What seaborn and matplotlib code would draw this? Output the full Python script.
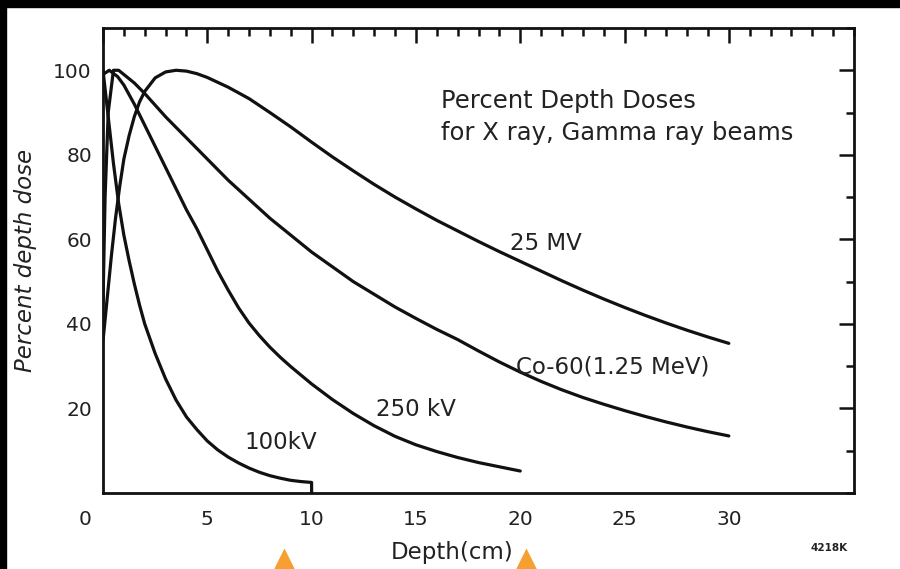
import matplotlib
matplotlib.use("Agg")
import matplotlib.pyplot as plt
import matplotlib.transforms as mtransforms
from matplotlib.patches import Rectangle
from matplotlib.ticker import MultipleLocator
import seaborn as sns
import pandas as pd

# ---- data ----
mv25_depth = [0, 0.2, 0.4, 0.6, 0.8, 1.0, 1.25, 1.5, 1.75, 2.0, 2.5, 3.0, 3.5, 4.0, 4.5, 5, 6, 7, 8, 9, 10,
              11, 12, 13, 14, 15, 16, 17, 18, 19, 20, 21, 22, 23, 24, 25, 26, 27, 28, 29, 30]
mv25_dose  = [36, 46, 56, 65, 72.5, 79, 84.5, 89, 92.5, 95, 98.2, 99.6, 100, 99.8, 99.2, 98.3, 96, 93.3, 90, 86.6, 83,
              79.5, 76.2, 73, 70, 67.2, 64.5, 62, 59.5, 57.1, 54.8, 52.5, 50.2, 48.0, 45.9, 43.9, 42.0, 40.2, 38.5, 36.9, 35.4]

co60_depth = [0, 0.1, 0.25, 0.5, 0.75, 1, 1.5, 2, 3, 4, 5, 6, 7, 8, 9, 10, 11, 12, 13, 14, 15,
              16, 17, 18, 19, 20, 21, 22, 23, 24, 25, 26, 27, 28, 29, 30]
co60_dose  = [45, 70, 90, 100, 100, 99, 97, 94.5, 89, 84, 79, 74, 69.5, 65, 61, 57, 53.5, 50, 47, 44, 41.3,
              38.7, 36.3, 33.6, 31.0, 28.6, 26.4, 24.4, 22.6, 21.0, 19.5, 18.1, 16.8, 15.6, 14.5, 13.5]

kv250_depth = [0, 0.3, 0.7, 1, 1.5, 2, 2.5, 3, 3.5, 4, 4.5, 5, 5.5, 6, 6.5, 7, 7.5, 8, 8.5, 9, 10,
               11, 12, 13, 14, 15, 16, 17, 18, 19, 20]
kv250_dose  = [99, 100, 98.5, 96.5, 92, 87, 82, 77, 72, 67, 62.5, 57.5, 52.5, 48, 43.8, 40.2, 37.2, 34.5, 32.1, 29.9, 25.8,
               22.1, 18.8, 15.9, 13.4, 11.4, 9.8, 8.4, 7.2, 6.2, 5.2]

kv100_depth = [0, 0.25, 0.5, 0.75, 1.0, 1.25, 1.5, 1.75, 2.0, 2.5, 3.0, 3.5, 4.0, 4.5, 5.0, 5.5, 6.0, 6.5,
               7.0, 7.5, 8.0, 8.5, 9.0, 9.5, 10.0, 10.0]
kv100_dose  = [100, 89, 78, 68.5, 61, 55, 49.5, 44.5, 40, 33, 27, 22, 18, 15, 12.3, 10.2, 8.5, 7.1,
               5.9, 4.9, 4.1, 3.5, 3.0, 2.7, 2.5, 0.0]

series_names = ["25 MV", "Co-60(1.25 MeV)", "250 kV", "100kV"]
label_texts = ["25 MV", "Co-60(1.25 MeV)", "250 kV", "100kV"]
label_x = [19.5, 19.8, 13.1, 6.8]
label_y = [59.0, 29.8, 19.8, 12.0]

x_ticks = [0, 5, 10, 15, 20, 25, 30]
y_ticks = [20, 40, 60, 80, 100]
title_lines = "Percent Depth Doses\nfor X ray, Gamma ray beams"
marker_depths = [8.7, 20.3]

frames = []
for name, xs, ys in zip(series_names,
                        [mv25_depth, co60_depth, kv250_depth, kv100_depth],
                        [mv25_dose, co60_dose, kv250_dose, kv100_dose]):
    frames.append(pd.DataFrame({"depth": xs, "dose": ys, "beam": name}))
df = pd.concat(frames, ignore_index=True)

sns.set_style("white")
plt.rcParams["font.family"] = ["DejaVu Sans"]

fig = plt.figure(figsize=(9, 5.69), dpi=100)
fig.patch.set_facecolor("white")
ax = fig.add_axes([103/900, 1 - 493/569, (854 - 103)/900, (493 - 28)/569])

for name in series_names:
    sub = df[df["beam"] == name]
    sns.lineplot(data=sub, x="depth", y="dose", ax=ax, color="#111111",
                 linewidth=2.3, sort=False, estimator=None, legend=False)

ax.set_xlim(0, 36)
ax.set_ylim(0, 110)
ax.set_xticks(x_ticks)
ax.set_yticks(y_ticks)
ax.xaxis.set_minor_locator(MultipleLocator(1))
ax.yaxis.set_minor_locator(MultipleLocator(10))
ax.tick_params(which="both", direction="in", top=True, right=True,
               width=1.8, color="#111111")
ax.tick_params(which="major", length=11, labelsize=14.5, labelcolor="#222222")
ax.tick_params(which="minor", length=6)
ax.tick_params(axis="x", which="major", pad=12)
ax.tick_params(axis="y", which="major", pad=8)
ax.tick_params(axis="y", which="major", right=True, labelright=False)
for s in ax.spines.values():
    s.set_linewidth(2.0)
    s.set_color("#111111")

# shift the "0" tick label to the left like the original
lbl0 = ax.get_xticklabels()[0]
lbl0.set_transform(lbl0.get_transform() + mtransforms.ScaledTranslation(-18/100, 0, fig.dpi_scale_trans))

ax.set_xlabel("Depth(cm)", fontsize=16.5, color="#222222")
ax.xaxis.set_label_coords((452 - 103)/751, (493 - 541)/465)
ax.set_ylabel("Percent depth dose", fontsize=16.5, style="italic", color="#222222", labelpad=12)

for t, lx, ly in zip(label_texts, label_x, label_y):
    ax.text(lx, ly, t, fontsize=16.5, color="#222222", ha="left", va="center")

ax.text(16.2, 95.6, title_lines, fontsize=17.5, color="#222222", ha="left", va="top",
        linespacing=1.42)

fig.text(829/900, 1 - 548/569, "4218K", fontsize=7.5, weight="bold", color="#222222",
         ha="center", va="center")

# black scan borders
fig.patches.append(Rectangle((0, 1 - 7/569), 1, 7/569, transform=fig.transFigure,
                             color="black", zorder=-1))
fig.patches.append(Rectangle((0, 0), 6/900, 1, transform=fig.transFigure,
                             color="black", zorder=-1))

# orange pointer triangles below the axis
trans = mtransforms.blended_transform_factory(ax.transData, fig.transFigure)
ax.scatter(marker_depths, [4/569, 4/569], marker="^", s=600, color="#f5a031",
           transform=trans, clip_on=False, zorder=5, linewidths=0)

fig.savefig("out.png", dpi=100, facecolor="white")
